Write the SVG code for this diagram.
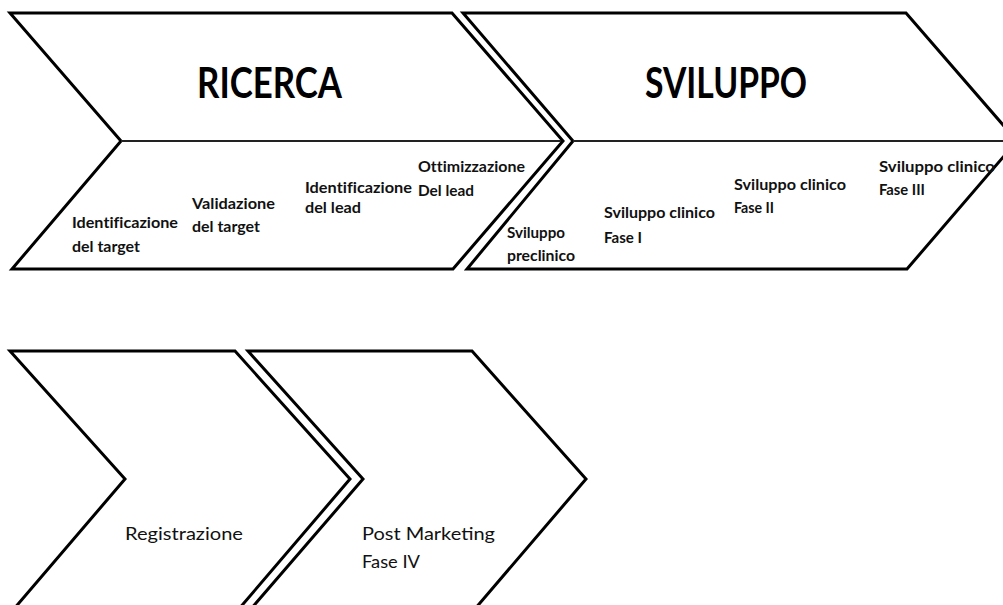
<svg xmlns="http://www.w3.org/2000/svg" width="1003" height="605" viewBox="0 0 1003 605">
  <style>
    .shape { fill: #ffffff; stroke: #000000; stroke-width: 3; stroke-linejoin: miter; }
    .divider { stroke: #222222; stroke-width: 2; fill: none; }
    .title { font-family: Lato, "Liberation Sans", sans-serif; font-weight: bold; font-size: 42px; fill: #000000; }
    .step { font-family: Lato, "Liberation Sans", sans-serif; font-weight: bold; font-size: 15px; fill: #111111; font-variant-ligatures: none; }
    .phase { font-family: Lato, "Liberation Sans", sans-serif; font-size: 18px; fill: #111111; }
  </style>
  <rect width="1003" height="605" fill="#ffffff"/>

  <!-- Research stage -->
  <g id="ricerca">
    <polygon class="shape" points="10,13 452,13 563,141 453,269 12,269 121,141"/>
    <line class="divider" x1="121" y1="141" x2="561" y2="141"/>
    <text class="title" x="197" y="98" textLength="145" lengthAdjust="spacingAndGlyphs">RICERCA</text>
    <text class="step" x="72" y="228" textLength="106" lengthAdjust="spacingAndGlyphs">Identificazione</text>
    <text class="step" x="72" y="252" textLength="68" lengthAdjust="spacingAndGlyphs">del target</text>
    <text class="step" x="192" y="209" textLength="83" lengthAdjust="spacingAndGlyphs">Validazione</text>
    <text class="step" x="192" y="232" textLength="68" lengthAdjust="spacingAndGlyphs">del target</text>
    <text class="step" x="305" y="193" textLength="107" lengthAdjust="spacingAndGlyphs">Identificazione</text>
    <text class="step" x="305" y="213" textLength="56" lengthAdjust="spacingAndGlyphs">del lead</text>
    <text class="step" x="418" y="172" textLength="107" lengthAdjust="spacingAndGlyphs">Ottimizzazione</text>
    <text class="step" x="418" y="196" textLength="56" lengthAdjust="spacingAndGlyphs">Del lead</text>
  </g>

  <!-- Development stage -->
  <g id="sviluppo">
    <polygon class="shape" points="463,13 906,13 1017,141 907,269 467,269 573,141"/>
    <line class="divider" x1="573" y1="141" x2="1003" y2="141"/>
    <text class="title" x="645" y="98" textLength="162" lengthAdjust="spacingAndGlyphs">SVILUPPO</text>
    <text class="step" x="507" y="238" textLength="58" lengthAdjust="spacingAndGlyphs">Sviluppo</text>
    <text class="step" x="507" y="261" textLength="68" lengthAdjust="spacingAndGlyphs">preclinico</text>
    <text class="step" x="604" y="218" textLength="111" lengthAdjust="spacingAndGlyphs">Sviluppo clinico</text>
    <text class="step" x="604" y="243" textLength="38" lengthAdjust="spacingAndGlyphs">Fase I</text>
    <text class="step" x="734" y="190" textLength="112" lengthAdjust="spacingAndGlyphs">Sviluppo clinico</text>
    <text class="step" x="734" y="213" textLength="40" lengthAdjust="spacingAndGlyphs">Fase II</text>
    <text class="step" x="879" y="172" textLength="116" lengthAdjust="spacingAndGlyphs">Sviluppo clinico</text>
    <text class="step" x="879" y="195" textLength="46" lengthAdjust="spacingAndGlyphs">Fase III</text>
  </g>

  <!-- Registration stage -->
  <g id="registrazione">
    <polygon class="shape" points="10,351 235,351 350,479 238,610 13,610 125,479"/>
    <text class="phase" x="125" y="540" textLength="118" lengthAdjust="spacingAndGlyphs">Registrazione</text>
  </g>

  <!-- Post-marketing stage -->
  <g id="post-marketing">
    <polygon class="shape" points="248,351 472,351 586,479 474,610 250,610 363,479"/>
    <text class="phase" x="362" y="540" textLength="133" lengthAdjust="spacingAndGlyphs">Post Marketing</text>
    <text class="phase" x="362" y="568" textLength="58" lengthAdjust="spacingAndGlyphs">Fase IV</text>
  </g>

  <g id="connectors"/>
</svg>
